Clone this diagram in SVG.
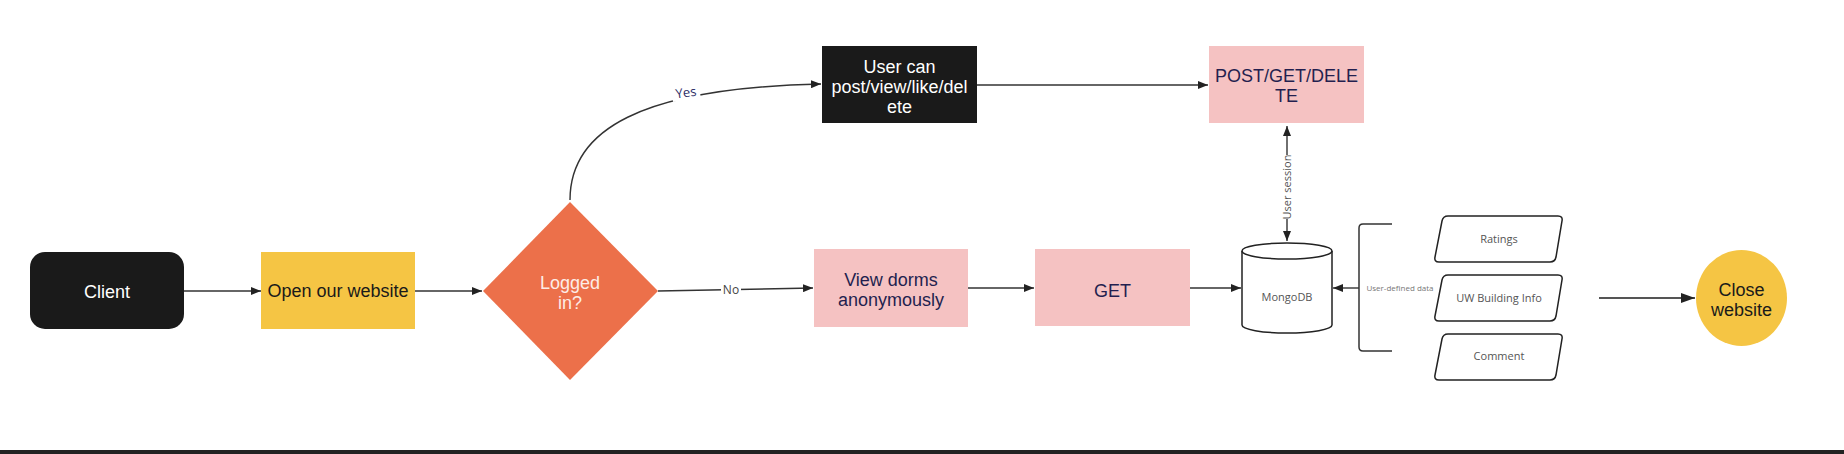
<svg xmlns="http://www.w3.org/2000/svg" width="1844" height="454" viewBox="0 0 1844 454">
<defs>
<style>
.big{font-family:"Liberation Sans",Arial,sans-serif;font-size:18px;text-anchor:middle}
.wt{fill:#ffffff}
.bk{fill:#1a1a1a}
.nv{fill:#231f4f}
.sm{font-family:"Open Sans","Liberation Sans",sans-serif;text-anchor:middle;fill:#555555}
.edge{fill:none;stroke:#333333;stroke-width:1.4}
.outl{fill:#ffffff;stroke:#222222;stroke-width:1.5}
.pink{fill:#f5c2c2}
.yel{fill:#f5c544}
</style>
<marker id="ah" viewBox="0 0 10 8" refX="10" refY="4" markerWidth="10" markerHeight="8" markerUnits="userSpaceOnUse" orient="auto">
<path d="M0,0 L10,4 L0,8 Z" fill="#222222"/>
</marker>
<marker id="ahs" viewBox="0 0 10 8" refX="10" refY="4" markerWidth="10" markerHeight="8" markerUnits="userSpaceOnUse" orient="auto-start-reverse">
<path d="M0,0 L10,4 L0,8 Z" fill="#222222"/>
</marker>
<marker id="ahb" viewBox="0 0 14 10" refX="14" refY="5" markerWidth="14" markerHeight="10" markerUnits="userSpaceOnUse" orient="auto">
<path d="M0,0 L14,5 L0,10 Z" fill="#222222"/>
</marker>
</defs>
<rect x="0" y="0" width="1844" height="454" fill="#ffffff"/>

<g id="connectors">
<line class="edge" x1="184" y1="291" x2="261" y2="291" marker-end="url(#ah)"/>
<line class="edge" x1="415" y1="291" x2="482" y2="291" marker-end="url(#ah)"/>
<path class="edge" d="M570,200 C570,130 640,88 821,84" marker-end="url(#ah)"/>
<rect x="672" y="85" width="28" height="15" fill="#ffffff" transform="rotate(-8 686 93)"/>
<text class="sm" x="686" y="97" font-size="13" fill="#2d2d5e" transform="rotate(-8 686 93)" style="fill:#2d2d66">Yes</text>
<path class="edge" d="M658,291 L813,288" marker-end="url(#ah)"/>
<rect x="721" y="282" width="20" height="14" fill="#ffffff"/>
<text class="sm" x="731" y="293.5" font-size="12" style="fill:#444444">No</text>
<line class="edge" x1="977" y1="85" x2="1208" y2="85" marker-end="url(#ah)"/>
<line class="edge" x1="968" y1="288" x2="1034" y2="288" marker-end="url(#ah)"/>
<line class="edge" x1="1190" y1="288" x2="1241" y2="288" marker-end="url(#ah)"/>
<line class="edge" x1="1287" y1="126" x2="1287" y2="241" marker-start="url(#ahs)" marker-end="url(#ah)"/>
<rect x="1280" y="155" width="14" height="64" fill="#ffffff"/>
<text class="sm" x="1287" y="191" font-size="11" transform="rotate(-90 1287 187)">User session</text>
<line class="edge" x1="1359" y1="288" x2="1333" y2="288" marker-end="url(#ah)"/>
<text class="sm" x="1400" y="291" font-size="8" style="fill:#777777">User-defined data</text>
<line x1="1599" y1="298" x2="1695" y2="298" stroke="#555555" stroke-width="2" marker-end="url(#ahb)"/>
</g>

<g id="client">
<rect x="30" y="252" width="154" height="77" rx="15" ry="15" class="bk"/>
<text class="big wt" x="107" y="298">Client</text>
</g>

<g id="open-website">
<rect x="261" y="252" width="154" height="77" class="yel"/>
<text class="big bk" x="338" y="297">Open our website</text>
</g>

<g id="logged-in">
<polygon points="570,202 658,291 570,380 483,291" fill="#ec704a"/>
<text class="big" x="570" y="289" fill="#fdece6">Logged</text>
<text class="big" x="570" y="309" fill="#fdece6">in?</text>
</g>

<g id="user-can">
<rect x="822" y="46" width="155" height="77" class="bk"/>
<text class="big wt" x="899.5" y="73">User can</text>
<text class="big wt" x="899.5" y="93">post/view/like/del</text>
<text class="big wt" x="899.5" y="113">ete</text>
</g>

<g id="post-get-delete">
<rect x="1209" y="46" width="155" height="77" class="pink"/>
<text class="big nv" x="1286.5" y="82">POST/GET/DELE</text>
<text class="big nv" x="1286.5" y="102">TE</text>
</g>

<g id="view-dorms">
<rect x="814" y="249" width="154" height="78" class="pink"/>
<text class="big nv" x="891" y="286">View dorms</text>
<text class="big nv" x="891" y="306">anonymously</text>
</g>

<g id="get">
<rect x="1035" y="249" width="155" height="77" class="pink"/>
<text class="big nv" x="1112.5" y="297">GET</text>
</g>

<g id="mongodb">
<path class="outl" d="M1242,251 L1242,325 A45,8 0 0 0 1332,325 L1332,251 A45,8 0 0 0 1242,251 Z"/>
<path d="M1242,251 A45,8 0 0 0 1332,251" fill="none" stroke="#222222" stroke-width="1.5"/>
<text class="sm" x="1287" y="301" font-size="11">MongoDB</text>
</g>

<g id="bracket">
<path d="M1392,224 L1363,224 Q1359,224 1359,228 L1359,347 Q1359,351 1363,351 L1392,351" fill="none" stroke="#333333" stroke-width="1.5"/>
</g>

<g id="ratings">
<path class="outl" d="M1448,216 L1558,216 Q1563,216 1562,221 L1556,257 Q1555,262 1550,262 L1439,262 Q1434,262 1435,257 L1442,221 Q1443,216 1448,216 Z"/>
<text class="sm" x="1499" y="243" font-size="11">Ratings</text>
</g>

<g id="uw-building-info">
<path class="outl" transform="translate(0,59)" d="M1448,216 L1558,216 Q1563,216 1562,221 L1556,257 Q1555,262 1550,262 L1439,262 Q1434,262 1435,257 L1442,221 Q1443,216 1448,216 Z"/>
<text class="sm" x="1499" y="302" font-size="11">UW Building Info</text>
</g>

<g id="comment">
<path class="outl" transform="translate(0,118)" d="M1448,216 L1558,216 Q1563,216 1562,221 L1556,257 Q1555,262 1550,262 L1439,262 Q1434,262 1435,257 L1442,221 Q1443,216 1448,216 Z"/>
<text class="sm" x="1499" y="360" font-size="11">Comment</text>
</g>

<g id="close-website">
<ellipse cx="1741.5" cy="298" rx="45.5" ry="48" class="yel"/>
<text class="big bk" x="1741.5" y="296">Close</text>
<text class="big bk" x="1741.5" y="316">website</text>
</g>

<rect x="0" y="450" width="1844" height="4" fill="#222222"/>
</svg>
